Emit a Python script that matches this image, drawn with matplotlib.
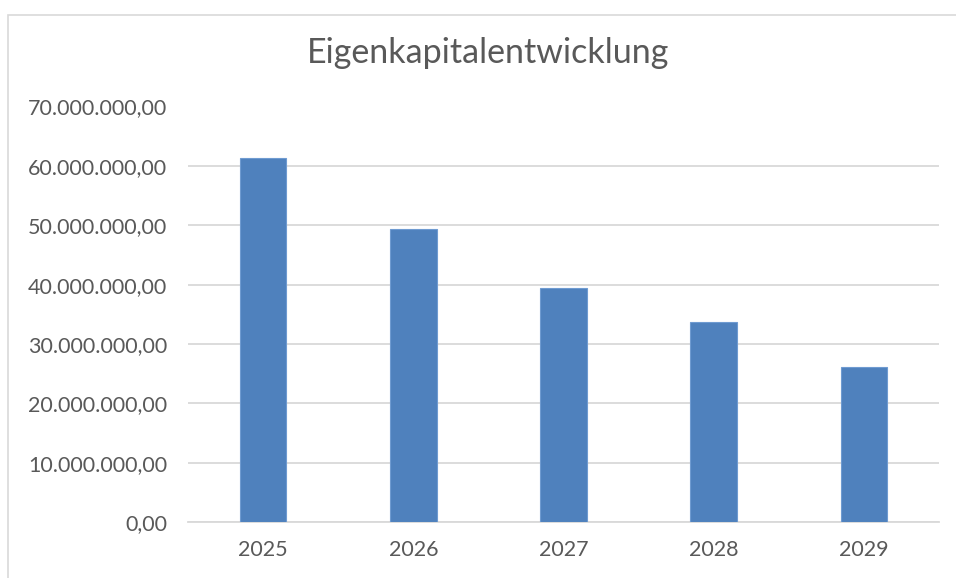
import matplotlib.pyplot as plt
from matplotlib.patches import Rectangle

jahre = ["2025", "2026", "2027", "2028", "2029"]
eigenkapital = [61400000, 49300000, 39500000, 33700000, 26100000]
y_ticks = [0, 10000000, 20000000, 30000000, 40000000, 50000000, 60000000, 70000000]

plt.rcParams['font.family'] = ['Lato', 'DejaVu Sans']

fig = plt.figure(figsize=(9.56, 5.78), dpi=100)
ax = fig.add_axes([188/956, 1 - 522.3/578, 751/956, (522.3 - 106.5)/578])

x = range(len(jahre))
ax.bar(x, eigenkapital, width=0.31, color="#4f81bd", edgecolor="#6f9bd1", linewidth=0.8, zorder=3)

ax.set_xlim(-0.5, len(jahre) - 0.5)
ax.set_ylim(0, 70000000)
ax.set_yticks(y_ticks)
ax.set_yticklabels([f"{v:,.2f}".replace(",", "X").replace(".", ",").replace("X", ".") for v in y_ticks])
ax.set_xticks(list(x))
ax.set_xticklabels(jahre)

ax.grid(axis='y', color="#d9d9d9", linewidth=1.3, zorder=0)
for s in ["top", "right", "left"]:
    ax.spines[s].set_visible(False)
ax.spines["bottom"].set_color("#d9d9d9")
ax.spines["bottom"].set_linewidth(1.3)
ax.tick_params(axis='both', length=0, colors="#595959", labelsize=15.5)
ax.tick_params(axis='y', pad=15)
ax.tick_params(axis='x', pad=13)

fig.text(488/956, 1 - 53/578, "Eigenkapitalentwicklung", ha="center", va="center",
         fontsize=24.5, color="#595959")

# Rahmen des Diagramms
fig.patches.append(Rectangle((8/956, -0.1), 1.2, 1 - 15/578 + 0.1, transform=fig.transFigure,
                             fill=False, edgecolor="#d9d9d9", linewidth=1.2))

fig.savefig("out.png", dpi=100)
